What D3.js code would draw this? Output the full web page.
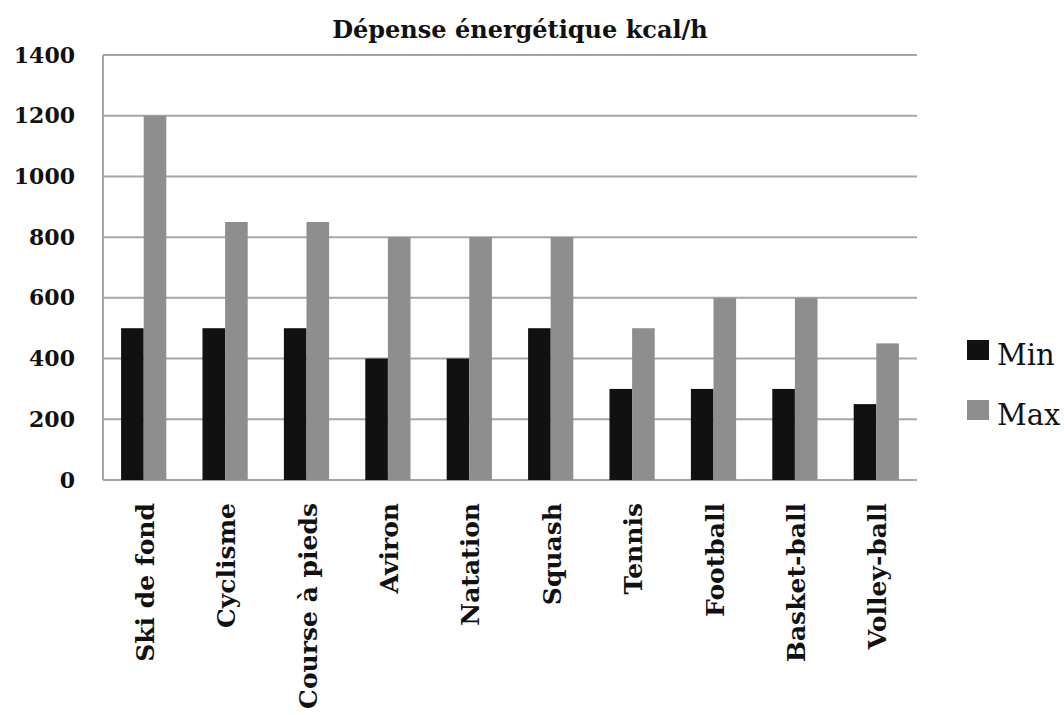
<!DOCTYPE html>
<html lang="fr">
<head>
<meta charset="utf-8">
<script src="https://cdn.jsdelivr.net/npm/d3@7"></script>
<style>
  html, body { margin: 0; padding: 0; background: #fff; }
  svg { display: block; }
</style>
</head>
<body>
<svg id="chart" width="1064" height="715"></svg>
<script>
// Energy expenditure per sport (kcal/h)
const categories = ["Ski de fond", "Cyclisme", "Course à pieds", "Aviron", "Natation",
                    "Squash", "Tennis", "Football", "Basket-ball", "Volley-ball"];
const minValues = [500, 500, 500, 400, 400, 500, 300, 300, 300, 250];
const maxValues = [1200, 850, 850, 800, 800, 800, 500, 600, 600, 450];
const seriesNames = ["Min", "Max"];
const seriesColors = ["#111111", "#8e8e8e"];
const yTicks = [0, 200, 400, 600, 800, 1000, 1200, 1400];
const title = "Dépense énergétique kcal/h";

const FONT = "'DejaVu Serif', 'Liberation Serif', serif";
const svg = d3.select("#chart");
const m = { left: 103, right: 917, top: 55, bottom: 480 };

const x = d3.scaleBand().domain(categories).range([m.left, m.right]).paddingInner(0).paddingOuter(0);
const y = d3.scaleLinear().domain([0, 1400]).range([m.bottom, m.top]);
const xSub = d3.scaleBand().domain(seriesNames).range([0, x.bandwidth()]).paddingInner(0).paddingOuter(0.8);

// Horizontal gridlines
svg.append("g")
  .selectAll("line")
  .data(yTicks)
  .join("line")
  .attr("x1", m.left).attr("x2", m.right)
  .attr("y1", d => y(d)).attr("y2", d => y(d))
  .attr("stroke", "#a6a6a6").attr("stroke-width", 2);

// Left axis line
svg.append("line")
  .attr("x1", m.left).attr("x2", m.left)
  .attr("y1", y(1400)).attr("y2", y(0))
  .attr("stroke", "#a6a6a6").attr("stroke-width", 2);

// Y tick labels
const yAxis = svg.append("g")
  .attr("transform", `translate(${m.left},0)`)
  .call(d3.axisLeft(y).tickValues(yTicks).tickFormat(d3.format("d")).tickSize(0).tickPadding(28));
yAxis.select(".domain").remove();
yAxis.selectAll("text")
  .attr("font-family", FONT).attr("font-weight", "bold")
  .attr("font-size", 22).attr("fill", "#111");

// Bars
const series = [minValues, maxValues];
const groups = svg.append("g")
  .selectAll("g")
  .data(categories)
  .join("g")
  .attr("transform", d => `translate(${x(d)},0)`);

groups.selectAll("rect")
  .data((d, i) => seriesNames.map((s, k) => ({ s, v: series[k][i], k })))
  .join("rect")
  .attr("x", d => xSub(d.s))
  .attr("width", xSub.bandwidth())
  .attr("y", d => y(d.v))
  .attr("height", d => y(0) - y(d.v))
  .attr("fill", d => seriesColors[d.k]);

// Category labels (rotated)
const xAxis = svg.append("g")
  .attr("transform", `translate(0,${m.bottom})`)
  .call(d3.axisBottom(x).tickSize(0).tickPadding(0));
xAxis.select(".domain").remove();
xAxis.selectAll("text")
  .attr("font-family", FONT).attr("font-weight", "bold")
  .attr("font-size", 25).attr("fill", "#111")
  .attr("text-anchor", "end")
  .attr("transform", "rotate(-90)")
  .attr("x", -23).attr("y", 1).attr("dy", "0.36em");

// Title
svg.append("text")
  .attr("x", 520).attr("y", 38)
  .attr("text-anchor", "middle")
  .attr("font-family", FONT).attr("font-weight", "bold")
  .attr("font-size", 24).attr("fill", "#111")
  .text(title);

// Legend
const legend = svg.append("g")
  .selectAll("g")
  .data(seriesNames)
  .join("g")
  .attr("transform", (d, i) => `translate(967,${340 + i * 60})`);
legend.append("rect")
  .attr("width", 22).attr("height", 20)
  .attr("fill", (d, i) => seriesColors[i]);
legend.append("text")
  .attr("x", 30).attr("y", 25)
  .attr("font-family", FONT)
  .attr("font-size", 29).attr("fill", "#111")
  .text(d => d);
</script>
</body>
</html>
